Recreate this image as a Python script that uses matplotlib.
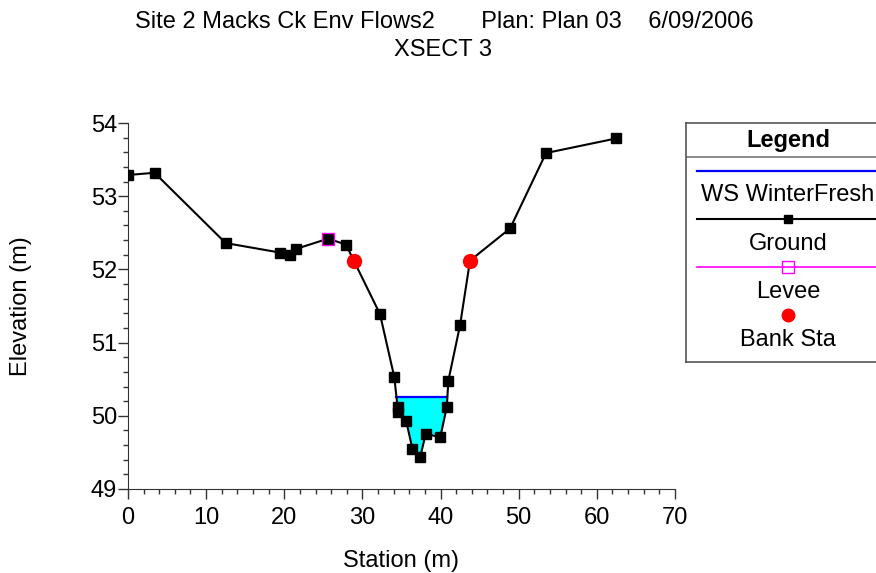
import numpy as np
import matplotlib
matplotlib.use("Agg")
import matplotlib.pyplot as plt
from matplotlib.ticker import MultipleLocator

plt.rcParams['font.family'] = ['Liberation Sans', 'DejaVu Sans']

# Ground profile
station = [0.0, 3.4, 12.5, 19.45, 20.7, 21.5, 25.6, 27.9, 28.9, 32.25, 34.08,
           34.5, 34.6, 35.6, 36.4, 37.4, 38.1, 39.97, 40.8, 41.0, 42.5, 43.77,
           48.9, 53.5, 62.5]
elev = [53.29, 53.32, 52.36, 52.23, 52.20, 52.28, 52.42, 52.34, 52.12, 51.39,
        50.53, 50.12, 50.05, 49.93, 49.55, 49.44, 49.75, 49.71, 50.12, 50.48,
        51.24, 52.12, 52.56, 53.59, 53.79]

ws_elev = 50.26
levee_sta = [25.6]
levee_elev = [52.42]
bank_sta = [28.9, 43.77]
bank_elev = [52.12, 52.12]

title_line1 = "Site 2 Macks Ck Env Flows2       Plan: Plan 03    6/09/2006"
title_line2 = "XSECT 3"

FS = 17

x = np.array(station)
y = np.array(elev)

# water surface extent: where ground crosses WS in the channel
below = np.where(y < ws_elev)[0]
i0, i1 = below[0], below[-1]
xl = np.interp(ws_elev, [y[i0], y[i0 - 1]], [x[i0], x[i0 - 1]])
xr = np.interp(ws_elev, [y[i1], y[i1 + 1]], [x[i1], x[i1 + 1]])
px = np.concatenate([[xl], x[i0:i1 + 1], [xr]])
py = np.concatenate([[ws_elev], y[i0:i1 + 1], [ws_elev]])

fig = plt.figure(figsize=(8.76, 5.73), dpi=100)
ax = fig.add_axes([0.1461, 0.1466, 0.6244, 0.6387])

ax.fill(px, py, color='#00ffff', zorder=1, lw=0)
ax.plot([xl, xr], [ws_elev, ws_elev], color='blue', lw=1.6, zorder=2)
ax.plot(x, y, color='black', lw=1.5, marker='s', ms=7, zorder=3)
ax.plot(levee_sta, levee_elev, ls='none', marker='s', ms=9, mfc='none',
        mec='magenta', mew=1.0, zorder=4)
ax.plot(bank_sta, bank_elev, ls='none', marker='o', ms=10, color='red', zorder=5)

ax.set_xlim(0, 70)
ax.set_ylim(49, 54)
ax.xaxis.set_major_locator(MultipleLocator(10))
ax.xaxis.set_minor_locator(MultipleLocator(2))
ax.yaxis.set_major_locator(MultipleLocator(1))
ax.yaxis.set_minor_locator(MultipleLocator(0.2))
ax.tick_params(which='major', length=7, width=1, color='#333333', labelsize=FS)
ax.tick_params(which='minor', length=3.6, width=1, color='#333333')
ax.tick_params(axis='y', which='major', pad=1)
ax.tick_params(axis='x', which='major', pad=6)
for s in ['top', 'right']:
    ax.spines[s].set_visible(False)
for s in ['left', 'bottom']:
    ax.spines[s].set_color('#333333')
ax.set_xlabel("Station (m)", fontsize=FS, labelpad=15)
ax.set_ylabel("Elevation (m)", fontsize=FS, labelpad=42)

fig.text(0.507, 0.962, title_line1, ha='center', va='center', fontsize=FS)
fig.text(0.506, 0.913, title_line2, ha='center', va='center', fontsize=FS)

# legend box (drawn in pixel-like coords)
lg = fig.add_axes([686 / 876, 1 - 362 / 573, 204 / 876, 239 / 573])
lg.set_xlim(0, 204)
lg.set_ylim(239, 0)
lg.set_xticks([])
lg.set_yticks([])
for s in lg.spines.values():
    s.set_color('#555555')
    s.set_linewidth(1.2)
lg.axhline(34, color='#777777', lw=1.2)
lg.text(102, 18, "Legend", ha='center', va='center', fontsize=FS, fontweight='bold')
lg.plot([11, 204], [48, 48], color='blue', lw=1.6)
lg.text(102, 72, "WS WinterFresh", ha='center', va='center', fontsize=FS)
lg.plot([11, 204], [96, 96], color='black', lw=1.5)
lg.plot([102], [96], marker='s', ms=6, color='black')
lg.text(102, 121, "Ground", ha='center', va='center', fontsize=FS)
lg.plot([11, 204], [144, 144], color='magenta', lw=1.2)
lg.plot([102], [144], marker='s', ms=8, mfc='none', mec='magenta', mew=1.0)
lg.text(102, 169, "Levee", ha='center', va='center', fontsize=FS)
lg.plot([102], [192], marker='o', ms=9, color='red')
lg.text(102, 217, "Bank Sta", ha='center', va='center', fontsize=FS)

fig.savefig("out.png", dpi=100)
